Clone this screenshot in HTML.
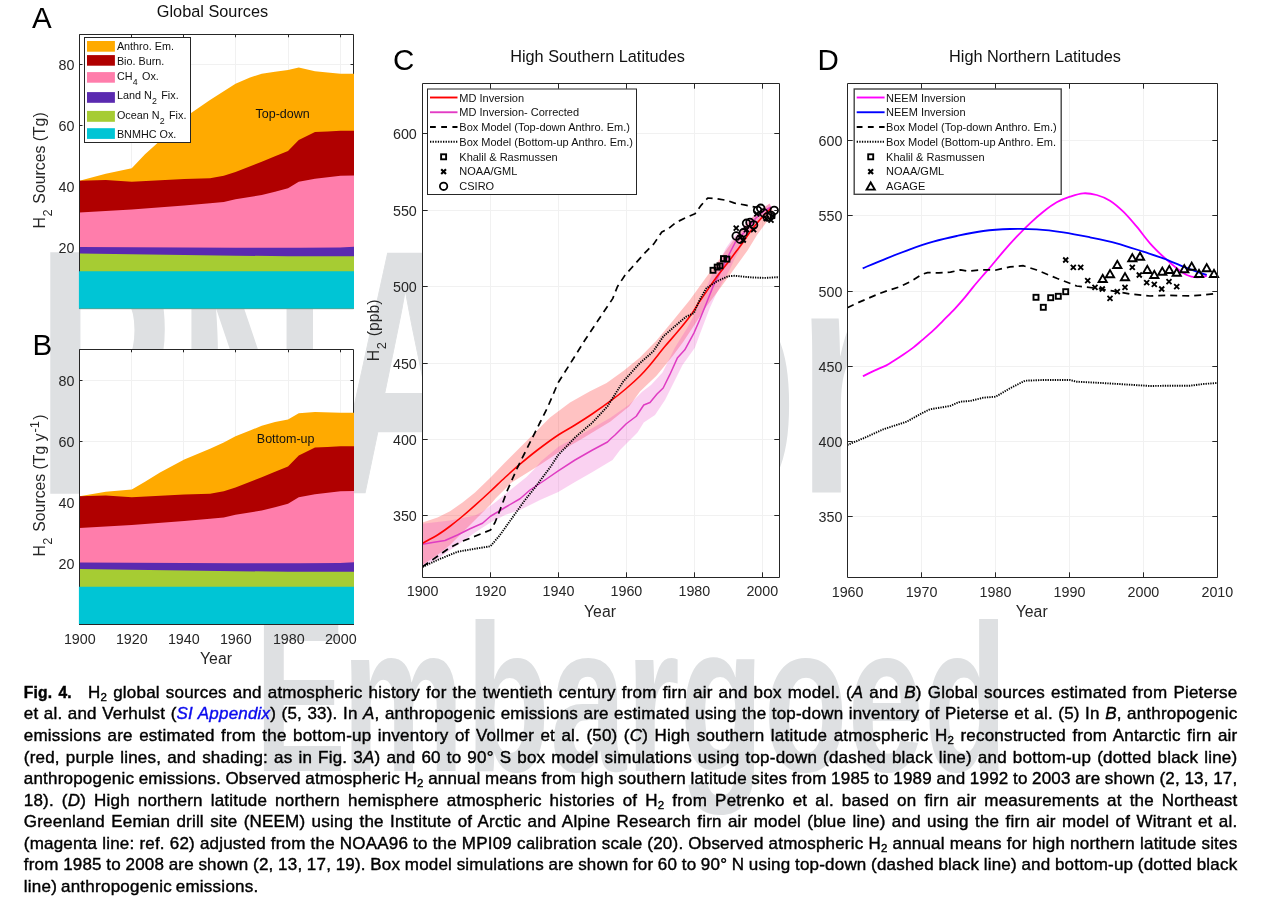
<!DOCTYPE html>
<html lang="en"><head><meta charset="utf-8"><title>Fig. 4</title>
<style>
html,body{margin:0;padding:0;background:#fff;}
body{width:1263px;height:905px;position:relative;overflow:hidden;font-family:"Liberation Sans", Arial, Helvetica, sans-serif;}
svg{position:absolute;left:0;top:0;}
svg text{font-family:"Liberation Sans", Arial, Helvetica, sans-serif;}
.cap{position:absolute;left:23.8px;width:1213.6px;height:24px;font-size:17px;line-height:24px;color:#000;-webkit-text-stroke:0.4px #000;letter-spacing:0.2px;word-spacing:-1.2px;white-space:nowrap;text-align:justify;text-align-last:justify;}
.cap.last{text-align-last:left;text-align:left;letter-spacing:0.25px;}
.cap sub{font-size:11.5px;vertical-align:baseline;position:relative;top:3px;line-height:0;}
.cap b{display:inline-block;width:64.3px;text-align:left;text-align-last:left;font-size:15.6px;word-spacing:1.6px;}
.cap i.l{color:#0a0aee;-webkit-text-stroke-color:#0a0aee;}
</style></head><body>
<svg width="1263" height="905" viewBox="0 0 1263 905">
<g fill="#dee0e2" font-weight="bold" font-size="100"><text transform="translate(37.57,492.5) scale(2.0,3.474)" stroke="#dee0e2" stroke-width="1.9" vector-effect="non-scaling-stroke">P</text><text transform="translate(177.6,492.5) scale(2.068,3.474)">N</text><text transform="translate(330,492.5) scale(2.085,3.474)" stroke="#dee0e2" stroke-width="1.2" vector-effect="non-scaling-stroke">AS</text><text transform="translate(670.3,492.5) scale(2.085,3.294)"> proof</text></g>
<g fill="#dee0e2" font-weight="bold" font-size="100"><text transform="translate(254.8,770.7) scale(1.373,2.24)">E</text><text transform="translate(254.8,770.7) scale(1.373,2.10)" x="63.6 153.9 215 270.6 309.5 370.6 431.7 487.3">mbargoed</text></g>
<g transform="translate(0,0.00)">
<rect x="79.50" y="34.50" width="274.00" height="274.10" fill="#fff"/>
<path d="M131.50 34.50 V308.60 M183.50 34.50 V308.60 M235.50 34.50 V308.60 M288.50 34.50 V308.60 M340.50 34.50 V308.60 M79.50 247.50 H353.50 M79.50 186.50 H353.50 M79.50 125.50 H353.50 M79.50 64.50 H353.50" stroke="#f1f1f1" stroke-width="1" fill="none"/>
<path d="M79.50 34.50 H353.50 V308.60 H79.50 Z" stroke="#262626" stroke-width="1" fill="none"/>
<path d="M131.50 34.50 v2.8 M183.50 34.50 v2.8 M235.50 34.50 v2.8 M288.50 34.50 v2.8 M340.50 34.50 v2.8 M79.50 247.50 h3 M353.50 247.50 h-3 M79.50 186.50 h3 M353.50 186.50 h-3 M79.50 125.50 h3 M353.50 125.50 h-3 M79.50 64.50 h3 M353.50 64.50 h-3" stroke="#262626" stroke-width="1" fill="none"/>
<polygon points="79.50,180.75 105.75,173.75 131.75,168.25 145.00,154.25 190.00,113.75 210.00,100.00 235.50,83.75 250.00,77.50 261.75,73.75 275.00,71.75 288.00,70.00 298.75,67.50 315.00,71.25 327.50,72.50 340.50,73.75 354.00,73.75 354.00,308.60 79.50,308.60" fill="#ffaa00"/>
<polygon points="79.50,180.75 105.75,180.00 131.75,181.75 184.25,179.00 210.00,178.25 223.75,175.75 235.50,172.00 261.75,161.75 275.00,156.25 288.00,151.00 298.75,140.00 315.00,132.00 327.50,131.50 340.50,130.75 354.00,130.75 354.00,308.60 79.50,308.60" fill="#b00000"/>
<polygon points="79.50,212.50 131.75,209.50 184.25,205.50 210.00,203.25 223.75,202.00 235.50,199.25 261.75,195.00 275.00,191.75 288.00,188.25 298.75,181.75 315.00,178.75 340.50,175.75 354.00,175.60 354.00,308.60 79.50,308.60" fill="#ff7dab"/>
<polygon points="79.50,247.00 131.70,247.30 236.00,247.80 300.00,247.80 340.00,247.40 354.00,246.80 354.00,308.60 79.50,308.60" fill="#5a2ab0"/>
<polygon points="79.50,253.60 131.70,254.20 184.00,255.00 236.00,255.70 288.00,256.20 354.00,256.30 354.00,308.60 79.50,308.60" fill="#a6cc33"/>
<path d="M79.50 34.50 V272.00" stroke="#262626" stroke-width="1"/>
<rect x="78.90" y="271.25" width="275.10" height="37.35" fill="#00c5d5"/>
<text x="74.50" y="253.24" font-size="14.30" text-anchor="end" fill="#262626" >20</text>
<text x="74.50" y="192.08" font-size="14.30" text-anchor="end" fill="#262626" >40</text>
<text x="74.50" y="130.92" font-size="14.30" text-anchor="end" fill="#262626" >60</text>
<text x="74.50" y="69.76" font-size="14.30" text-anchor="end" fill="#262626" >80</text>
</g>
<rect x="84.5" y="37.5" width="106" height="105" fill="#fff" stroke="#262626" stroke-width="1"/>
<rect x="87" y="41.00" width="27.9" height="10.70" fill="#ffaa00"/>
<text x="116.90" y="50.30" font-size="10.80" text-anchor="start" fill="#111" >Anthro. Em.</text>
<rect x="87" y="55.10" width="27.9" height="10.60" fill="#b00000"/>
<text x="116.90" y="65.10" font-size="10.80" text-anchor="start" fill="#111" >Bio. Burn.</text>
<rect x="87" y="72.10" width="27.9" height="10.60" fill="#ff7dab"/>
<text x="116.90" y="79.80" font-size="10.80" text-anchor="start" fill="#111" >CH<tspan dy="5.3" dx="0.3" font-size="8.8">4</tspan><tspan dy="-5.3" dx="1.3"> Ox.</tspan></text>
<rect x="87" y="92.10" width="27.9" height="10.70" fill="#5a2ab0"/>
<text x="116.90" y="98.70" font-size="10.80" text-anchor="start" fill="#111" >Land N<tspan dy="5.3" dx="0.3" font-size="8.8">2</tspan><tspan dy="-5.3" dx="1.3"> Fix.</tspan></text>
<rect x="87" y="110.90" width="27.9" height="10.90" fill="#a6cc33"/>
<text x="116.90" y="118.90" font-size="10.80" text-anchor="start" fill="#111" >Ocean N<tspan dy="5.3" dx="0.3" font-size="8.8">2</tspan><tspan dy="-5.3" dx="1.3"> Fix.</tspan></text>
<rect x="87" y="128.20" width="27.9" height="10.70" fill="#00c5d5"/>
<text x="116.90" y="137.50" font-size="10.80" text-anchor="start" fill="#111" >BNMHC Ox.</text>
<g transform="translate(0,315.00)">
<rect x="79.50" y="34.50" width="274.00" height="275.00" fill="#fff"/>
<path d="M131.50 34.50 V309.50 M183.50 34.50 V309.50 M235.50 34.50 V309.50 M288.50 34.50 V309.50 M340.50 34.50 V309.50 M79.50 248.50 H353.50 M79.50 187.50 H353.50 M79.50 126.50 H353.50 M79.50 65.50 H353.50" stroke="#f1f1f1" stroke-width="1" fill="none"/>
<path d="M79.50 34.50 H353.50 V309.50 H79.50 Z" stroke="#262626" stroke-width="1" fill="none"/>
<path d="M131.50 34.50 v2.8 M183.50 34.50 v2.8 M235.50 34.50 v2.8 M288.50 34.50 v2.8 M340.50 34.50 v2.8 M79.50 248.50 h3 M353.50 248.50 h-3 M79.50 187.50 h3 M353.50 187.50 h-3 M79.50 126.50 h3 M353.50 126.50 h-3 M79.50 65.50 h3 M353.50 65.50 h-3" stroke="#262626" stroke-width="1" fill="none"/>
<polygon points="79.50,181.25 105.75,176.75 131.75,174.50 145.00,166.75 160.00,157.50 184.25,144.50 210.00,133.75 223.75,127.50 235.50,121.25 250.00,115.50 261.75,110.75 275.00,107.00 288.00,104.50 298.75,98.25 315.00,97.00 340.50,97.75 354.00,97.75 354.00,309.50 79.50,309.50" fill="#ffaa00"/>
<polygon points="79.50,181.25 105.75,180.50 131.75,182.25 184.25,179.50 210.00,178.75 223.75,176.25 235.50,172.50 261.75,162.25 275.00,156.75 288.00,151.50 298.75,140.50 315.00,132.50 327.50,132.00 340.50,131.25 354.00,131.25 354.00,309.50 79.50,309.50" fill="#b00000"/>
<polygon points="79.50,213.00 131.75,210.00 184.25,206.00 210.00,203.75 223.75,202.50 235.50,199.75 261.75,195.50 275.00,192.25 288.00,188.75 298.75,182.25 315.00,179.25 340.50,176.25 354.00,176.10 354.00,309.50 79.50,309.50" fill="#ff7dab"/>
<polygon points="79.50,247.50 131.70,247.80 236.00,248.30 300.00,248.30 340.00,247.90 354.00,247.30 354.00,309.50 79.50,309.50" fill="#5a2ab0"/>
<polygon points="79.50,254.10 131.70,254.70 184.00,255.50 236.00,256.20 288.00,256.70 354.00,256.80 354.00,309.50 79.50,309.50" fill="#a6cc33"/>
<path d="M79.50 34.50 V272.50" stroke="#262626" stroke-width="1"/>
<rect x="78.90" y="271.75" width="275.10" height="37.25" fill="#00c5d5"/>
<path d="M79.00 309.50 H354.00" stroke="#262626" stroke-width="1"/>
<text x="74.50" y="253.99" font-size="14.30" text-anchor="end" fill="#262626" >20</text>
<text x="74.50" y="192.88" font-size="14.30" text-anchor="end" fill="#262626" >40</text>
<text x="74.50" y="131.76" font-size="14.30" text-anchor="end" fill="#262626" >60</text>
<text x="74.50" y="70.65" font-size="14.30" text-anchor="end" fill="#262626" >80</text>
</g>
<text x="32.00" y="28.00" font-size="29.50" text-anchor="start" fill="#000" >A</text>
<text x="32.50" y="355.00" font-size="29.50" text-anchor="start" fill="#000" >B</text>
<text x="212.50" y="16.70" font-size="16.30" text-anchor="middle" fill="#111" >Global Sources</text>
<text x="255.50" y="117.50" font-size="12.50" text-anchor="start" fill="#111" >Top-down</text>
<text x="256.80" y="442.80" font-size="12.50" text-anchor="start" fill="#111" >Bottom-up</text>
<text x="79.80" y="643.80" font-size="14.30" text-anchor="middle" fill="#262626" >1900</text>
<text x="131.80" y="643.80" font-size="14.30" text-anchor="middle" fill="#262626" >1920</text>
<text x="183.80" y="643.80" font-size="14.30" text-anchor="middle" fill="#262626" >1940</text>
<text x="235.80" y="643.80" font-size="14.30" text-anchor="middle" fill="#262626" >1960</text>
<text x="288.80" y="643.80" font-size="14.30" text-anchor="middle" fill="#262626" >1980</text>
<text x="340.80" y="643.80" font-size="14.30" text-anchor="middle" fill="#262626" >2000</text>
<text x="216.00" y="663.80" font-size="15.80" text-anchor="middle" fill="#262626" >Year</text>
<text transform="translate(45,228.5) rotate(-90)" font-size="15.8" fill="#262626">H<tspan dy="6.8" dx="0.5" font-size="12.7">2</tspan><tspan dy="-6.8" dx="1.5"> Sources (Tg)</tspan></text>
<text transform="translate(45,556.6) rotate(-90)" font-size="15.8" fill="#262626">H<tspan dy="6.8" dx="0.5" font-size="12.7">2</tspan><tspan dy="-6.8" dx="1.5"> Sources (Tg y</tspan><tspan dy="-6.5" dx="0.8" font-size="13">-1</tspan><tspan dy="6.5" dx="1.2">)</tspan></text>
<text transform="translate(379.4,361.2) rotate(-90)" font-size="15.8" fill="#262626">H<tspan dy="6.8" dx="0.5" font-size="12.7">2</tspan><tspan dy="-6.8" dx="1.5"> (ppb)</tspan></text>
<rect x="422.50" y="83.50" width="357.00" height="494.00" fill="#fff"/>
<path d="M490.50 83.50 V577.50 M558.50 83.50 V577.50 M626.50 83.50 V577.50 M694.50 83.50 V577.50 M762.50 83.50 V577.50 M422.50 515.50 H779.50 M422.50 439.50 H779.50 M422.50 363.50 H779.50 M422.50 286.50 H779.50 M422.50 210.50 H779.50 M422.50 133.50 H779.50" stroke="#f1f1f1" stroke-width="1" fill="none"/>
<clipPath id="clipC"><rect x="422.50" y="83.50" width="357.00" height="494.00"/></clipPath>
<g clip-path="url(#clipC)">
<polygon points="422.50,522.50 437.50,517.50 450.00,511.25 462.50,502.50 475.00,492.50 490.50,477.50 505.00,462.50 520.00,447.50 530.00,437.50 550.00,417.50 570.00,402.50 590.00,391.25 606.60,383.00 623.30,371.00 639.90,357.50 656.50,340.50 673.10,320.50 689.80,299.90 706.40,277.00 723.00,254.50 738.00,234.00 750.00,219.50 760.00,210.50 769.50,203.50 773.50,212.50 768.00,220.00 757.00,235.00 747.50,250.50 728.00,277.50 716.40,293.20 706.40,306.50 693.10,327.00 683.10,342.00 673.10,355.50 656.50,375.80 640.00,391.50 629.10,406.60 610.10,421.80 581.60,438.90 558.80,452.20 541.70,463.70 526.50,473.20 511.30,482.70 496.00,497.90 490.50,504.50 482.50,512.50 475.00,520.00 462.50,532.50 450.00,545.00 437.50,555.00 422.50,565.00" fill="#ff0000" fill-opacity="0.24"/>
<polygon points="422.50,523.75 450.00,520.50 475.00,515.50 482.70,511.50 496.00,501.70 511.30,489.30 526.50,477.00 534.00,469.40 541.70,460.80 558.80,446.50 581.60,434.20 610.10,418.00 629.10,404.70 642.40,391.40 651.00,385.00 662.50,372.50 675.00,347.50 687.50,327.50 700.00,303.75 707.50,285.00 713.00,272.00 720.00,260.00 726.00,248.00 733.00,238.00 742.00,228.00 750.00,219.00 758.00,211.50 766.00,206.00 770.00,203.50 772.00,210.50 764.00,217.00 756.00,225.00 748.00,236.00 741.00,247.00 735.00,258.00 729.00,271.00 722.00,283.00 715.75,295.00 710.00,307.50 700.00,333.75 695.00,347.50 682.50,365.00 675.00,380.00 665.00,400.00 655.00,415.00 643.75,422.50 637.50,432.50 620.00,450.00 612.50,460.00 592.50,472.00 575.00,482.00 558.25,492.00 540.00,500.00 520.00,510.00 505.00,515.00 490.50,522.50 475.00,532.50 457.50,545.00 437.50,558.75 422.50,567.00" fill="#e830c0" fill-opacity="0.22"/>
<path d="M422.50 544.25 L432.50 542.50 L445.00 540.50 L457.50 535.00 L470.00 528.75 L482.50 523.25 L490.50 516.25 L505.00 507.50 L520.00 498.75 L530.00 490.00 L545.00 480.00 L558.25 470.80 L575.00 460.00 L592.50 450.00 L607.50 442.00 L611.00 438.50 L615.00 435.00 L626.25 423.75 L636.25 416.25 L643.75 405.00 L650.00 402.50 L657.00 394.00 L663.20 388.00 L669.80 374.70 L677.30 358.10 L684.80 349.80 L693.90 333.10 L699.70 319.80 L706.40 303.20 L713.00 286.60 L719.70 273.30 L726.30 260.00 L731.30 250.00 L736.00 241.00 L741.00 236.00 L748.00 228.00 L756.00 218.00 L764.00 211.00 L771.00 207.00" stroke="#df3cc2" stroke-width="1.5" fill="none" stroke-linejoin="round"/>
<path d="M422.50 543.25 C425.00 541.88 432.92 537.83 437.50 535.00 C442.08 532.17 445.83 529.38 450.00 526.25 C454.17 523.12 458.33 519.73 462.50 516.25 C466.67 512.77 470.33 509.57 475.00 505.40 C479.67 501.23 485.50 495.90 490.50 491.25 C495.50 486.60 500.08 482.01 505.00 477.50 C509.92 472.99 514.58 468.78 520.00 464.20 C525.42 459.62 531.12 454.87 537.50 450.00 C543.88 445.13 552.00 439.17 558.25 435.00 C564.50 430.83 569.29 428.54 575.00 425.00 C580.71 421.46 586.40 417.88 592.50 413.75 C598.60 409.62 605.98 404.41 611.60 400.20 C617.23 395.99 621.52 392.53 626.25 388.50 C630.98 384.47 636.04 379.92 640.00 376.00 C643.96 372.08 645.87 369.90 650.00 365.00 C654.13 360.10 660.38 351.92 664.80 346.60 C669.22 341.28 672.33 338.12 676.50 333.10 C680.67 328.08 686.20 321.38 689.80 316.50 C693.40 311.62 695.33 307.95 698.10 303.80 C700.87 299.65 703.35 296.03 706.40 291.60 C709.45 287.17 713.08 281.70 716.40 277.20 C719.72 272.70 722.98 268.93 726.30 264.60 C729.62 260.27 733.60 254.80 736.30 251.20 C739.00 247.60 740.22 246.20 742.50 243.00 C744.78 239.80 747.35 235.58 750.00 232.00 C752.65 228.42 755.90 224.50 758.40 221.50 C760.90 218.50 762.82 216.25 765.00 214.00 C767.18 211.75 770.42 209.00 771.50 208.00" stroke="#ff0000" stroke-width="1.6" fill="none" stroke-linejoin="round"/>
<path d="M422.50 566.75 L437.50 556.25 L450.00 547.50 L462.50 541.25 L475.00 536.25 L490.50 530.00 L495.00 522.50 L500.00 510.00 L507.50 490.00 L517.50 467.50 L525.00 452.50 L532.50 437.50 L540.00 422.50 L547.50 407.50 L558.25 382.50 L572.50 360.00 L585.00 340.00 L600.00 317.50 L612.70 298.60 L617.40 286.70 L625.30 274.80 L631.70 267.70 L645.90 251.80 L653.80 243.90 L661.80 232.00 L668.10 228.90 L676.00 222.50 L685.50 217.80 L695.00 213.80 L701.30 205.10 L707.70 198.00 L717.20 198.80 L726.70 200.40 L734.60 203.10 L745.70 205.10 L755.20 207.20" stroke="#000" stroke-width="1.7" stroke-dasharray="7 5" fill="none" stroke-linejoin="round"/>
<path d="M422.50 567.00 L437.50 560.00 L457.50 551.75 L475.00 548.75 L490.50 546.25 L500.00 535.00 L512.50 517.50 L525.00 500.00 L535.00 487.50 L550.00 467.50 L558.25 455.00 L575.00 437.50 L592.50 422.50 L607.50 406.25 L611.60 399.70 L623.30 381.40 L639.90 363.10 L653.20 351.40 L663.20 336.50 L676.50 324.80 L686.40 316.50 L693.90 313.20 L699.70 299.90 L706.40 288.20 L716.40 281.60 L728.00 276.30 L734.70 275.80 L751.30 277.40 L764.60 277.90 L779.50 277.10" stroke="#000" stroke-width="1.9" stroke-dasharray="1.3 1.1" fill="none" stroke-linejoin="round"/>
<rect x="710.50" y="267.80" width="5.00" height="5.00" fill="none" stroke="#000" stroke-width="1.90"/>
<rect x="714.70" y="264.60" width="5.00" height="5.00" fill="none" stroke="#000" stroke-width="1.90"/>
<rect x="717.50" y="263.30" width="5.00" height="5.00" fill="none" stroke="#000" stroke-width="1.90"/>
<rect x="721.00" y="256.10" width="5.00" height="5.00" fill="none" stroke="#000" stroke-width="1.90"/>
<rect x="724.40" y="256.60" width="5.00" height="5.00" fill="none" stroke="#000" stroke-width="1.90"/>
<path d="M733.70 225.60 l5.00 5.00 M733.70 230.60 l5.00 -5.00" stroke="#000" stroke-width="1.90" fill="none"/>
<path d="M737.60 235.10 l5.00 5.00 M737.60 240.10 l5.00 -5.00" stroke="#000" stroke-width="1.90" fill="none"/>
<path d="M740.80 237.50 l5.00 5.00 M740.80 242.50 l5.00 -5.00" stroke="#000" stroke-width="1.90" fill="none"/>
<path d="M744.00 227.20 l5.00 5.00 M744.00 232.20 l5.00 -5.00" stroke="#000" stroke-width="1.90" fill="none"/>
<path d="M751.10 227.20 l5.00 5.00 M751.10 232.20 l5.00 -5.00" stroke="#000" stroke-width="1.90" fill="none"/>
<path d="M754.30 211.30 l5.00 5.00 M754.30 216.30 l5.00 -5.00" stroke="#000" stroke-width="1.90" fill="none"/>
<path d="M763.80 216.10 l5.00 5.00 M763.80 221.10 l5.00 -5.00" stroke="#000" stroke-width="1.90" fill="none"/>
<path d="M768.50 217.70 l5.00 5.00 M768.50 222.70 l5.00 -5.00" stroke="#000" stroke-width="1.90" fill="none"/>
<path d="M770.10 213.70 l5.00 5.00 M770.10 218.70 l5.00 -5.00" stroke="#000" stroke-width="1.90" fill="none"/>
<circle cx="736.20" cy="236.00" r="3.80" fill="none" stroke="#000" stroke-width="1.80"/>
<circle cx="740.10" cy="239.20" r="3.80" fill="none" stroke="#000" stroke-width="1.80"/>
<circle cx="743.30" cy="232.80" r="3.80" fill="none" stroke="#000" stroke-width="1.80"/>
<circle cx="746.50" cy="223.30" r="3.80" fill="none" stroke="#000" stroke-width="1.80"/>
<circle cx="750.00" cy="222.50" r="3.80" fill="none" stroke="#000" stroke-width="1.80"/>
<circle cx="753.60" cy="224.90" r="3.80" fill="none" stroke="#000" stroke-width="1.80"/>
<circle cx="757.60" cy="210.40" r="3.80" fill="none" stroke="#000" stroke-width="1.80"/>
<circle cx="760.70" cy="208.30" r="3.80" fill="none" stroke="#000" stroke-width="1.80"/>
<circle cx="763.90" cy="213.00" r="3.80" fill="none" stroke="#000" stroke-width="1.80"/>
<circle cx="767.10" cy="217.00" r="3.80" fill="none" stroke="#000" stroke-width="1.80"/>
<circle cx="771.00" cy="215.40" r="3.80" fill="none" stroke="#000" stroke-width="1.80"/>
<circle cx="774.20" cy="210.40" r="3.80" fill="none" stroke="#000" stroke-width="1.80"/>
</g>
<path d="M422.50 83.50 H779.50 V577.50 H422.50 Z M490.50 83.50 v5.20 M490.50 577.50 v-5.20 M558.50 83.50 v5.20 M558.50 577.50 v-5.20 M626.50 83.50 v5.20 M626.50 577.50 v-5.20 M694.50 83.50 v5.20 M694.50 577.50 v-5.20 M762.50 83.50 v5.20 M762.50 577.50 v-5.20 M422.50 515.50 h5.20 M779.50 515.50 h-5.20 M422.50 439.50 h5.20 M779.50 439.50 h-5.20 M422.50 363.50 h5.20 M779.50 363.50 h-5.20 M422.50 286.50 h5.20 M779.50 286.50 h-5.20 M422.50 210.50 h5.20 M779.50 210.50 h-5.20 M422.50 133.50 h5.20 M779.50 133.50 h-5.20" stroke="#262626" stroke-width="1" fill="none"/>
<rect x="427.50" y="89.00" width="209.00" height="105.50" fill="#fff" stroke="#262626" stroke-width="1.00"/>
<path d="M430.00 97.50 H457.50" stroke="#ff0000" stroke-width="1.9" fill="none"/>
<text x="459.30" y="101.60" font-size="11.00" text-anchor="start" fill="#111" >MD Inversion</text>
<path d="M430.00 112.25 H457.50" stroke="#e23bc4" stroke-width="1.9" fill="none"/>
<text x="459.30" y="116.35" font-size="11.00" text-anchor="start" fill="#111" >MD Inversion- Corrected</text>
<path d="M430.00 127.00 H457.50" stroke="#000" stroke-width="1.8" stroke-dasharray="5.8 5.4" fill="none"/>
<text x="459.30" y="131.10" font-size="11.00" text-anchor="start" fill="#111" >Box Model (Top-down Anthro. Em.)</text>
<path d="M430.00 141.75 H457.50" stroke="#000" stroke-width="1.9" stroke-dasharray="1.3 1.3" fill="none"/>
<text x="459.30" y="145.85" font-size="11.00" text-anchor="start" fill="#111" >Box Model (Bottom-up Anthro. Em.)</text>
<rect x="441.10" y="154.30" width="5.00" height="5.00" fill="none" stroke="#000" stroke-width="1.90"/>
<text x="459.30" y="160.60" font-size="11.00" text-anchor="start" fill="#111" >Khalil &amp; Rasmussen</text>
<path d="M441.20 169.15 l4.80 4.80 M441.20 173.95 l4.80 -4.80" stroke="#000" stroke-width="2.10" fill="none"/>
<text x="459.30" y="175.35" font-size="11.00" text-anchor="start" fill="#111" >NOAA/GML</text>
<circle cx="443.60" cy="186.30" r="3.70" fill="none" stroke="#000" stroke-width="1.80"/>
<text x="459.30" y="190.10" font-size="11.00" text-anchor="start" fill="#111" >CSIRO</text>
<text x="422.60" y="596.30" font-size="14.30" text-anchor="middle" fill="#262626" >1900</text>
<text x="490.54" y="596.30" font-size="14.30" text-anchor="middle" fill="#262626" >1920</text>
<text x="558.48" y="596.30" font-size="14.30" text-anchor="middle" fill="#262626" >1940</text>
<text x="626.42" y="596.30" font-size="14.30" text-anchor="middle" fill="#262626" >1960</text>
<text x="694.36" y="596.30" font-size="14.30" text-anchor="middle" fill="#262626" >1980</text>
<text x="762.30" y="596.30" font-size="14.30" text-anchor="middle" fill="#262626" >2000</text>
<text x="416.80" y="520.70" font-size="14.30" text-anchor="end" fill="#262626" >350</text>
<text x="416.80" y="444.70" font-size="14.30" text-anchor="end" fill="#262626" >400</text>
<text x="416.80" y="368.70" font-size="14.30" text-anchor="end" fill="#262626" >450</text>
<text x="416.80" y="291.70" font-size="14.30" text-anchor="end" fill="#262626" >500</text>
<text x="416.80" y="215.70" font-size="14.30" text-anchor="end" fill="#262626" >550</text>
<text x="416.80" y="138.70" font-size="14.30" text-anchor="end" fill="#262626" >600</text>
<text x="600.00" y="617.00" font-size="15.80" text-anchor="middle" fill="#262626" >Year</text>
<text x="597.50" y="61.70" font-size="16.30" text-anchor="middle" fill="#111" >High Southern Latitudes</text>
<text x="393.00" y="70.00" font-size="29.50" text-anchor="start" fill="#000" >C</text>
<rect x="847.50" y="83.50" width="370.00" height="494.00" fill="#fff"/>
<path d="M921.50 83.50 V577.50 M995.50 83.50 V577.50 M1069.50 83.50 V577.50 M1143.50 83.50 V577.50 M847.50 516.50 H1217.50 M847.50 441.50 H1217.50 M847.50 366.50 H1217.50 M847.50 291.50 H1217.50 M847.50 215.50 H1217.50 M847.50 140.50 H1217.50" stroke="#f1f1f1" stroke-width="1" fill="none"/>
<clipPath id="clipD"><rect x="847.50" y="83.50" width="376.00" height="494.00"/></clipPath>
<g clip-path="url(#clipD)">
<path d="M862.90 376.30 C864.82 375.35 870.57 372.38 874.40 370.60 C878.23 368.82 882.78 367.15 885.90 365.60 C889.02 364.05 890.23 363.10 893.10 361.30 C895.97 359.50 899.75 357.08 903.10 354.80 C906.45 352.52 910.08 350.00 913.20 347.60 C916.32 345.20 918.45 343.27 921.80 340.40 C925.15 337.53 929.70 333.75 933.30 330.40 C936.90 327.05 939.82 323.90 943.40 320.30 C946.98 316.70 951.22 312.63 954.80 308.80 C958.38 304.97 961.78 301.00 964.90 297.30 C968.02 293.60 970.63 290.07 973.50 286.60 C976.37 283.13 979.22 279.85 982.10 276.50 C984.98 273.15 987.10 270.85 990.80 266.50 C994.50 262.15 999.98 255.37 1004.30 250.40 C1008.62 245.43 1012.42 241.22 1016.70 236.70 C1020.98 232.18 1025.57 227.47 1030.00 223.30 C1034.43 219.13 1038.85 215.20 1043.30 211.70 C1047.75 208.20 1052.25 204.80 1056.70 202.30 C1061.15 199.80 1065.57 198.20 1070.00 196.70 C1074.43 195.20 1078.85 193.58 1083.30 193.30 C1087.75 193.02 1092.25 193.77 1096.70 195.00 C1101.15 196.23 1105.57 197.92 1110.00 200.70 C1114.43 203.48 1118.85 207.37 1123.30 211.70 C1127.75 216.03 1132.25 221.43 1136.70 226.70 C1141.15 231.97 1145.57 238.30 1150.00 243.30 C1154.43 248.30 1158.85 252.53 1163.30 256.70 C1167.75 260.87 1172.80 265.25 1176.70 268.30 C1180.60 271.35 1183.37 273.50 1186.70 275.00 C1190.03 276.50 1193.37 277.13 1196.70 277.30 C1200.03 277.47 1205.03 276.22 1206.70 276.00" stroke="#ff00ff" stroke-width="1.8" fill="none" stroke-linejoin="round"/>
<path d="M862.70 268.30 C866.70 266.63 878.82 261.47 886.70 258.30 C894.58 255.13 902.23 252.07 910.00 249.30 C917.77 246.53 925.52 243.92 933.30 241.70 C941.08 239.48 948.37 237.78 956.70 236.00 C965.03 234.22 974.42 232.17 983.30 231.00 C992.18 229.83 1001.10 229.28 1010.00 229.00 C1018.90 228.72 1027.82 228.75 1036.70 229.30 C1045.58 229.85 1054.42 230.97 1063.30 232.30 C1072.18 233.63 1081.10 235.47 1090.00 237.30 C1098.90 239.13 1107.82 240.90 1116.70 243.30 C1125.58 245.70 1135.53 249.20 1143.30 251.70 C1151.07 254.20 1156.63 255.80 1163.30 258.30 C1169.97 260.80 1177.73 264.47 1183.30 266.70 C1188.87 268.93 1192.80 270.32 1196.70 271.70 C1200.60 273.08 1205.03 274.45 1206.70 275.00" stroke="#0000ff" stroke-width="1.8" fill="none" stroke-linejoin="round"/>
<path d="M847.30 307.70 L858.60 302.40 L868.70 298.10 L878.70 293.80 L888.80 290.20 L900.30 286.60 L911.80 280.80 L921.80 274.40 L927.60 272.60 L939.00 272.90 L950.50 272.20 L960.60 269.80 L967.80 271.20 L979.30 270.10 L987.90 269.80 L995.10 270.30 L1002.20 268.60 L1010.00 266.90 L1023.30 265.70 L1036.70 270.00 L1056.70 278.30 L1076.70 286.00 L1096.70 288.30 L1116.70 291.70 L1130.00 294.00 L1150.00 296.00 L1170.00 295.30 L1190.00 296.00 L1203.30 295.00 L1217.30 293.30" stroke="#000" stroke-width="1.7" stroke-dasharray="7 5" fill="none" stroke-linejoin="round"/>
<path d="M847.30 445.00 L863.30 438.30 L883.30 429.30 L906.70 421.70 L921.70 413.30 L930.00 409.30 L950.00 406.00 L960.00 401.70 L970.00 401.00 L983.30 397.70 L995.70 396.70 L1010.00 388.30 L1025.00 380.70 L1043.30 380.00 L1070.00 380.00 L1076.70 381.70 L1096.70 382.70 L1123.30 384.30 L1150.00 386.00 L1170.00 385.70 L1190.00 385.70 L1203.30 384.00 L1217.30 383.00" stroke="#000" stroke-width="1.9" stroke-dasharray="1.3 1.1" fill="none" stroke-linejoin="round"/>
<rect x="1033.50" y="294.80" width="5.00" height="5.00" fill="none" stroke="#000" stroke-width="1.90"/>
<rect x="1040.80" y="304.80" width="5.00" height="5.00" fill="none" stroke="#000" stroke-width="1.90"/>
<rect x="1048.20" y="295.20" width="5.00" height="5.00" fill="none" stroke="#000" stroke-width="1.90"/>
<rect x="1055.80" y="293.80" width="5.00" height="5.00" fill="none" stroke="#000" stroke-width="1.90"/>
<rect x="1063.20" y="289.20" width="5.00" height="5.00" fill="none" stroke="#000" stroke-width="1.90"/>
<path d="M1063.20 257.50 l5.00 5.00 M1063.20 262.50 l5.00 -5.00" stroke="#000" stroke-width="1.90" fill="none"/>
<path d="M1070.80 264.80 l5.00 5.00 M1070.80 269.80 l5.00 -5.00" stroke="#000" stroke-width="1.90" fill="none"/>
<path d="M1078.20 264.80 l5.00 5.00 M1078.20 269.80 l5.00 -5.00" stroke="#000" stroke-width="1.90" fill="none"/>
<path d="M1085.20 278.20 l5.00 5.00 M1085.20 283.20 l5.00 -5.00" stroke="#000" stroke-width="1.90" fill="none"/>
<path d="M1092.50 284.80 l5.00 5.00 M1092.50 289.80 l5.00 -5.00" stroke="#000" stroke-width="1.90" fill="none"/>
<path d="M1099.80 286.50 l5.00 5.00 M1099.80 291.50 l5.00 -5.00" stroke="#000" stroke-width="1.90" fill="none"/>
<path d="M1107.50 295.80 l5.00 5.00 M1107.50 300.80 l5.00 -5.00" stroke="#000" stroke-width="1.90" fill="none"/>
<path d="M1114.80 289.20 l5.00 5.00 M1114.80 294.20 l5.00 -5.00" stroke="#000" stroke-width="1.90" fill="none"/>
<path d="M1122.50 284.80 l5.00 5.00 M1122.50 289.80 l5.00 -5.00" stroke="#000" stroke-width="1.90" fill="none"/>
<path d="M1129.80 264.80 l5.00 5.00 M1129.80 269.80 l5.00 -5.00" stroke="#000" stroke-width="1.90" fill="none"/>
<path d="M1136.80 272.50 l5.00 5.00 M1136.80 277.50 l5.00 -5.00" stroke="#000" stroke-width="1.90" fill="none"/>
<path d="M1144.20 280.20 l5.00 5.00 M1144.20 285.20 l5.00 -5.00" stroke="#000" stroke-width="1.90" fill="none"/>
<path d="M1151.80 281.80 l5.00 5.00 M1151.80 286.80 l5.00 -5.00" stroke="#000" stroke-width="1.90" fill="none"/>
<path d="M1159.20 286.50 l5.00 5.00 M1159.20 291.50 l5.00 -5.00" stroke="#000" stroke-width="1.90" fill="none"/>
<path d="M1166.50 279.20 l5.00 5.00 M1166.50 284.20 l5.00 -5.00" stroke="#000" stroke-width="1.90" fill="none"/>
<path d="M1174.20 284.20 l5.00 5.00 M1174.20 289.20 l5.00 -5.00" stroke="#000" stroke-width="1.90" fill="none"/>
<path d="M1098.60 282.01 L1106.80 282.01 L1102.70 274.84 Z" fill="none" stroke="#000" stroke-width="1.90" stroke-linejoin="miter"/>
<path d="M1105.90 277.31 L1114.10 277.31 L1110.00 270.14 Z" fill="none" stroke="#000" stroke-width="1.90" stroke-linejoin="miter"/>
<path d="M1113.20 268.01 L1121.40 268.01 L1117.30 260.84 Z" fill="none" stroke="#000" stroke-width="1.90" stroke-linejoin="miter"/>
<path d="M1120.90 280.31 L1129.10 280.31 L1125.00 273.14 Z" fill="none" stroke="#000" stroke-width="1.90" stroke-linejoin="miter"/>
<path d="M1128.20 261.31 L1136.40 261.31 L1132.30 254.14 Z" fill="none" stroke="#000" stroke-width="1.90" stroke-linejoin="miter"/>
<path d="M1135.90 259.71 L1144.10 259.71 L1140.00 252.54 Z" fill="none" stroke="#000" stroke-width="1.90" stroke-linejoin="miter"/>
<path d="M1143.20 273.01 L1151.40 273.01 L1147.30 265.84 Z" fill="none" stroke="#000" stroke-width="1.90" stroke-linejoin="miter"/>
<path d="M1150.20 278.01 L1158.40 278.01 L1154.30 270.84 Z" fill="none" stroke="#000" stroke-width="1.90" stroke-linejoin="miter"/>
<path d="M1158.20 274.71 L1166.40 274.71 L1162.30 267.54 Z" fill="none" stroke="#000" stroke-width="1.90" stroke-linejoin="miter"/>
<path d="M1165.20 273.01 L1173.40 273.01 L1169.30 265.84 Z" fill="none" stroke="#000" stroke-width="1.90" stroke-linejoin="miter"/>
<path d="M1172.60 275.71 L1180.80 275.71 L1176.70 268.54 Z" fill="none" stroke="#000" stroke-width="1.90" stroke-linejoin="miter"/>
<path d="M1180.20 272.31 L1188.40 272.31 L1184.30 265.14 Z" fill="none" stroke="#000" stroke-width="1.90" stroke-linejoin="miter"/>
<path d="M1187.60 269.71 L1195.80 269.71 L1191.70 262.54 Z" fill="none" stroke="#000" stroke-width="1.90" stroke-linejoin="miter"/>
<path d="M1194.90 277.01 L1203.10 277.01 L1199.00 269.84 Z" fill="none" stroke="#000" stroke-width="1.90" stroke-linejoin="miter"/>
<path d="M1202.60 271.31 L1210.80 271.31 L1206.70 264.14 Z" fill="none" stroke="#000" stroke-width="1.90" stroke-linejoin="miter"/>
<path d="M1209.90 277.01 L1218.10 277.01 L1214.00 269.84 Z" fill="none" stroke="#000" stroke-width="1.90" stroke-linejoin="miter"/>
</g>
<path d="M847.50 83.50 H1217.50 V577.50 H847.50 Z M921.50 83.50 v5.20 M921.50 577.50 v-5.20 M995.50 83.50 v5.20 M995.50 577.50 v-5.20 M1069.50 83.50 v5.20 M1069.50 577.50 v-5.20 M1143.50 83.50 v5.20 M1143.50 577.50 v-5.20 M847.50 516.50 h5.20 M1217.50 516.50 h-5.20 M847.50 441.50 h5.20 M1217.50 441.50 h-5.20 M847.50 366.50 h5.20 M1217.50 366.50 h-5.20 M847.50 291.50 h5.20 M1217.50 291.50 h-5.20 M847.50 215.50 h5.20 M1217.50 215.50 h-5.20 M847.50 140.50 h5.20 M1217.50 140.50 h-5.20" stroke="#262626" stroke-width="1" fill="none"/>
<rect x="854.20" y="89.00" width="207.00" height="105.30" fill="#fff" stroke="#444" stroke-width="1.40"/>
<path d="M856.70 97.50 H884.60" stroke="#ff00ff" stroke-width="1.9" fill="none"/>
<text x="886.10" y="101.60" font-size="11.00" text-anchor="start" fill="#111" >NEEM Inversion</text>
<path d="M856.70 112.25 H884.60" stroke="#0000ff" stroke-width="1.9" fill="none"/>
<text x="886.10" y="116.35" font-size="11.00" text-anchor="start" fill="#111" >NEEM Inversion</text>
<path d="M856.70 127.00 H884.60" stroke="#000" stroke-width="1.8" stroke-dasharray="5.8 5.4" fill="none"/>
<text x="886.10" y="131.10" font-size="11.00" text-anchor="start" fill="#111" >Box Model (Top-down Anthro. Em.)</text>
<path d="M856.70 141.75 H884.60" stroke="#000" stroke-width="1.9" stroke-dasharray="1.3 1.3" fill="none"/>
<text x="886.10" y="145.85" font-size="11.00" text-anchor="start" fill="#111" >Box Model (Bottom-up Anthro. Em.</text>
<rect x="868.20" y="154.30" width="5.00" height="5.00" fill="none" stroke="#000" stroke-width="1.90"/>
<text x="886.10" y="160.60" font-size="11.00" text-anchor="start" fill="#111" >Khalil &amp; Rasmussen</text>
<path d="M868.30 169.15 l4.80 4.80 M868.30 173.95 l4.80 -4.80" stroke="#000" stroke-width="2.10" fill="none"/>
<text x="886.10" y="175.35" font-size="11.00" text-anchor="start" fill="#111" >NOAA/GML</text>
<path d="M866.60 189.61 L874.80 189.61 L870.70 182.44 Z" fill="none" stroke="#000" stroke-width="1.90" stroke-linejoin="miter"/>
<text x="886.10" y="190.10" font-size="11.00" text-anchor="start" fill="#111" >AGAGE</text>
<text x="847.60" y="596.70" font-size="14.30" text-anchor="middle" fill="#262626" >1960</text>
<text x="921.55" y="596.70" font-size="14.30" text-anchor="middle" fill="#262626" >1970</text>
<text x="995.50" y="596.70" font-size="14.30" text-anchor="middle" fill="#262626" >1980</text>
<text x="1069.45" y="596.70" font-size="14.30" text-anchor="middle" fill="#262626" >1990</text>
<text x="1143.40" y="596.70" font-size="14.30" text-anchor="middle" fill="#262626" >2000</text>
<text x="1217.35" y="596.70" font-size="14.30" text-anchor="middle" fill="#262626" >2010</text>
<text x="842.40" y="521.70" font-size="14.30" text-anchor="end" fill="#262626" >350</text>
<text x="842.40" y="446.70" font-size="14.30" text-anchor="end" fill="#262626" >400</text>
<text x="842.40" y="371.70" font-size="14.30" text-anchor="end" fill="#262626" >450</text>
<text x="842.40" y="296.70" font-size="14.30" text-anchor="end" fill="#262626" >500</text>
<text x="842.40" y="220.70" font-size="14.30" text-anchor="end" fill="#262626" >550</text>
<text x="842.40" y="145.70" font-size="14.30" text-anchor="end" fill="#262626" >600</text>
<text x="1031.70" y="616.70" font-size="15.80" text-anchor="middle" fill="#262626" >Year</text>
<text x="1035.00" y="61.70" font-size="16.30" text-anchor="middle" fill="#111" >High Northern Latitudes</text>
<text x="817.50" y="70.00" font-size="29.50" text-anchor="start" fill="#000" >D</text>
</svg>
<div class="cap" style="top:680.80px"><b>Fig. 4.</b>H<sub>2</sub> global sources and atmospheric history for the twentieth century from firn air and box model. (<i>A</i> and <i>B</i>) Global sources estimated from Pieterse</div>
<div class="cap" style="top:702.37px">et al. and Verhulst (<i class="l">SI Appendix</i>) (5, 33). In <i>A</i>, anthropogenic emissions are estimated using the top-down inventory of Pieterse et al. (5) In <i>B</i>, anthropogenic</div>
<div class="cap" style="top:723.94px">emissions are estimated from the bottom-up inventory of Vollmer et al. (50) (<i>C</i>) High southern latitude atmospheric H<sub>2</sub> reconstructed from Antarctic firn air</div>
<div class="cap" style="top:745.51px">(red, purple lines, and shading: as in Fig. 3<i>A</i>) and 60 to 90° S box model simulations using top-down (dashed black line) and bottom-up (dotted black line)</div>
<div class="cap" style="top:767.08px">anthropogenic emissions. Observed atmospheric H<sub>2</sub> annual means from high southern latitude sites from 1985 to 1989 and 1992 to 2003 are shown (2, 13, 17,</div>
<div class="cap" style="top:788.65px">18). (<i>D</i>) High northern latitude northern hemisphere atmospheric histories of H<sub>2</sub> from Petrenko et al. based on firn air measurements at the Northeast</div>
<div class="cap" style="top:810.22px">Greenland Eemian drill site (NEEM) using the Institute of Arctic and Alpine Research firn air model (blue line) and using the firn air model of Witrant et al.</div>
<div class="cap" style="top:831.79px">(magenta line: ref. 62) adjusted from the NOAA96 to the MPI09 calibration scale (20). Observed atmospheric H<sub>2</sub> annual means for high northern latitude sites</div>
<div class="cap" style="top:853.36px">from 1985 to 2008 are shown (2, 13, 17, 19). Box model simulations are shown for 60 to 90° N using top-down (dashed black line) and bottom-up (dotted black</div>
<div class="cap last" style="top:874.93px">line) anthropogenic emissions.</div>
</body></html>
